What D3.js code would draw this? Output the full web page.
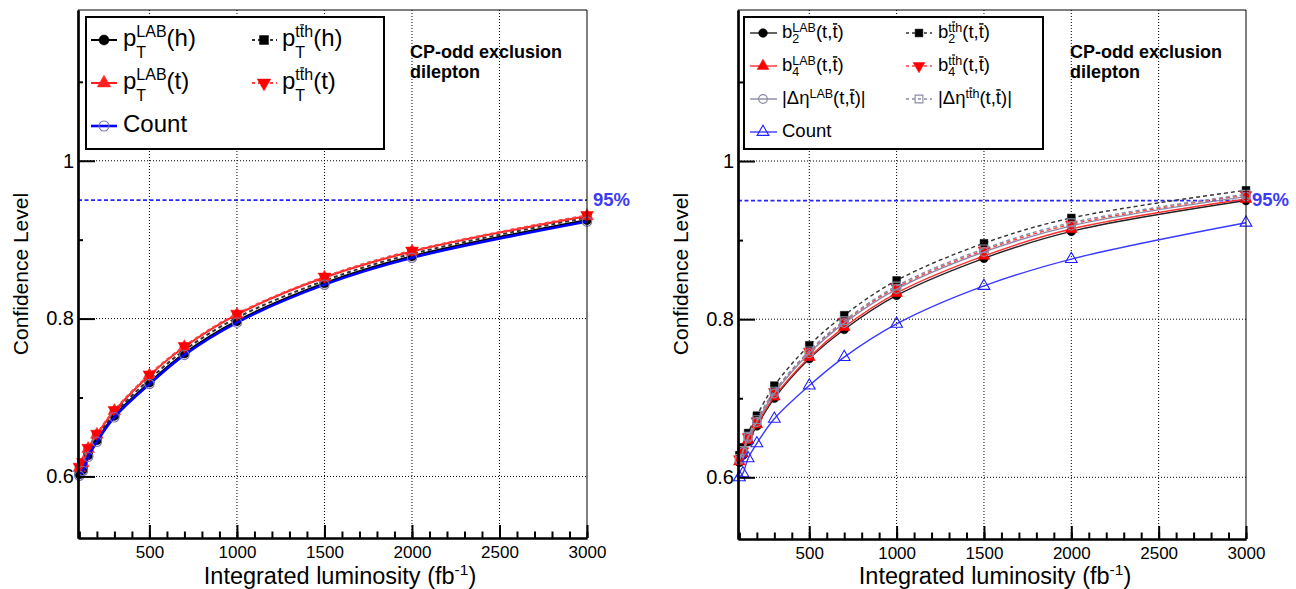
<!DOCTYPE html>
<html>
<head>
<meta charset="utf-8">
<script src="https://cdn.jsdelivr.net/npm/d3@7"></script>
<style>
body { margin: 0; background: #fff; }
text { font-family: "Liberation Sans", Arial, Helvetica, sans-serif; }
</style>
</head>
<body>
<script>
var width = 1296,
    height = 589;

// integrated luminosity points (fb-1)
var lumi = [100, 120, 150, 200, 300, 500, 700, 1000, 1500, 2000, 3000];

// left panel: pT based observables
var ptLabH  = [0.603, 0.609, 0.627, 0.646, 0.677, 0.719, 0.756, 0.797, 0.845, 0.879, 0.925];
var ptTthH  = [0.607, 0.613, 0.631, 0.650, 0.680, 0.723, 0.760, 0.801, 0.848, 0.882, 0.928];
var ptLabT  = [0.611, 0.617, 0.635, 0.653, 0.683, 0.728, 0.764, 0.805, 0.852, 0.885, 0.930];
var ptTthT  = [0.612, 0.618, 0.636, 0.654, 0.684, 0.729, 0.765, 0.806, 0.853, 0.886, 0.931];
var countL  = [0.601, 0.607, 0.625, 0.644, 0.675, 0.717, 0.754, 0.795, 0.843, 0.877, 0.923];

// right panel: angular observables
var b2Lab   = [0.619, 0.628, 0.645, 0.665, 0.700, 0.750, 0.787, 0.830, 0.877, 0.911, 0.950];
var b2Tth   = [0.628, 0.638, 0.656, 0.678, 0.716, 0.767, 0.805, 0.849, 0.896, 0.928, 0.963];
var b4Lab   = [0.620, 0.630, 0.647, 0.667, 0.702, 0.752, 0.790, 0.833, 0.880, 0.914, 0.952];
var b4Tth   = [0.623, 0.633, 0.651, 0.671, 0.708, 0.759, 0.797, 0.840, 0.887, 0.920, 0.957];
var detaLab = [0.622, 0.632, 0.650, 0.670, 0.706, 0.757, 0.795, 0.838, 0.885, 0.918, 0.955];
var detaTth = [0.624, 0.634, 0.652, 0.673, 0.709, 0.760, 0.798, 0.842, 0.889, 0.922, 0.958];
var countR  = [0.600, 0.605, 0.624, 0.643, 0.674, 0.716, 0.752, 0.794, 0.842, 0.876, 0.922];

var xTicks = [500, 1000, 1500, 2000, 2500, 3000];
var xMinor = d3.range(100, 3001, 100);
var yTicks = [0.6, 0.8, 1];
var yTickLabels = ['0.6', '0.8', '1'];
var yMinor = [0.7, 0.9, 1.1];
var clLevel = 0.95;

var tth = ['t', {t: 't', bar: 1}, 'h'];
var tbar = ['(t,', {t: 't', bar: 1}, ')'];

var leftSeries = [
  {vals: ptLabH, color: '#000', dash: null, marker: 'circle', fill: true,
   label: ['p', {sup: ['LAB'], sub: ['T']}, '(h)']},
  {vals: ptTthH, color: '#333', dash: '4,3', marker: 'square', fill: true, mcolor: '#000',
   label: ['p', {sup: tth, sub: ['T']}, '(h)']},
  {vals: ptLabT, color: '#ff2020', dash: null, marker: 'up', fill: true,
   label: ['p', {sup: ['LAB'], sub: ['T']}, '(t)']},
  {vals: ptTthT, color: '#ff4040', dash: '4,3', marker: 'down', fill: true, mcolor: '#ff0000',
   label: ['p', {sup: tth, sub: ['T']}, '(t)']},
  {vals: countL, color: '#0000ff', dash: null, marker: 'circle', fill: false, mcolor: '#7777aa', width: 2.6,
   label: ['Count']}
];

var rightSeries = [
  {vals: b2Lab, color: '#222', dash: null, marker: 'circle', fill: true, mcolor: '#000',
   label: ['b', {sup: ['LAB'], sub: ['2']}].concat(tbar)},
  {vals: b2Tth, color: '#333', dash: '4,3', marker: 'square', fill: true, mcolor: '#000',
   label: ['b', {sup: tth, sub: ['2']}].concat(tbar)},
  {vals: b4Lab, color: '#ff3030', dash: null, marker: 'up', fill: true, mcolor: '#ff0000',
   label: ['b', {sup: ['LAB'], sub: ['4']}].concat(tbar)},
  {vals: b4Tth, color: '#ff4040', dash: '4,3', marker: 'down', fill: true, mcolor: '#ff0000',
   label: ['b', {sup: tth, sub: ['4']}].concat(tbar)},
  {vals: detaLab, color: '#8a8aa6', dash: null, marker: 'circle', fill: false,
   label: ['|\u0394\u03b7', {sup: ['LAB']}].concat(tbar).concat(['|'])},
  {vals: detaTth, color: '#8a8aa6', dash: '4,3', marker: 'square', fill: false,
   label: ['|\u0394\u03b7', {sup: tth}].concat(tbar).concat(['|'])},
  {vals: countR, color: '#3a3aff', dash: null, marker: 'up', fill: false, mcolor: '#2020ff',
   label: ['Count']}
];

var svg = d3.select('body')
  .append('svg')
  .attr('width', width)
  .attr('height', height);

svg.append('rect').attr('width', width).attr('height', height).attr('fill', '#fff');

function symbolPath(type, size) {
  var t = type === 'circle' ? d3.symbolCircle
        : type === 'square' ? d3.symbolSquare : d3.symbolTriangle;
  return d3.symbol().type(t).size(size)();
}

function drawMarker(g, s, cx, cy, size) {
  var col = s.mcolor || s.color;
  g.append('path')
    .attr('d', symbolPath(s.marker, size))
    .attr('transform', 'translate(' + cx + ',' + cy + ')' + (s.marker === 'down' ? ' rotate(180)' : ''))
    .attr('fill', s.fill ? col : 'none')
    .attr('stroke', col)
    .attr('stroke-width', s.fill ? 0.5 : 1.1);
}

// lay out a run of text pieces, returns its width
function runs(g, list, x, y, fs) {
  var cx = x;
  list.forEach(function(p) {
    if (typeof p === 'string') p = {t: p};
    var t = g.append('text').attr('x', cx).attr('y', y).attr('font-size', fs).text(p.t);
    var w = t.node().getComputedTextLength();
    if (p.bar) {
      g.append('line')
        .attr('x1', cx + w * 0.1).attr('x2', cx + w * 0.95)
        .attr('y1', y - fs * 0.76).attr('y2', y - fs * 0.76)
        .attr('stroke', '#000').attr('stroke-width', fs > 16 ? 1.5 : 1.2);
    }
    cx += w;
  });
  return cx - x;
}

function richText(g, items, x, y, o) {
  var cx = x;
  items.forEach(function(it) {
    if (typeof it === 'object' && (it.sup || it.sub)) {
      var w1 = runs(g, it.sup || [], cx, y + o.supDy, o.ss);
      var w2 = runs(g, it.sub || [], cx, y + o.subDy, o.ss);
      cx += Math.max(w1, w2);
    } else {
      cx += runs(g, [it], cx, y, o.fs);
    }
  });
}

function panel(o, series) {
  var x = d3.scaleLinear().domain([92, 3000]).range([o.x0, o.x1]);
  var y = d3.scaleLinear().domain([0.522, 1.191]).range([o.y1, o.y0]);
  var g = svg.append('g');

  // dotted grid
  g.selectAll('.gx').data(xTicks.slice(0, -1)).enter().append('line')
    .attr('x1', function(d) { return x(d); }).attr('x2', function(d) { return x(d); })
    .attr('y1', o.y0).attr('y2', o.y1)
    .attr('stroke', '#000').attr('stroke-width', 1).attr('stroke-dasharray', '1,2');
  g.selectAll('.gy').data(yTicks).enter().append('line')
    .attr('x1', o.x0).attr('x2', o.x1)
    .attr('y1', function(d) { return y(d); }).attr('y2', function(d) { return y(d); })
    .attr('stroke', '#000').attr('stroke-width', 1).attr('stroke-dasharray', '1,2');

  // 95% line
  g.append('line')
    .attr('x1', o.x0).attr('x2', o.x1)
    .attr('y1', y(clLevel)).attr('y2', y(clLevel))
    .attr('stroke', '#2525ff').attr('stroke-width', 1.7).attr('stroke-dasharray', '4,2.5');

  // curves and markers
  var line = d3.line()
    .x(function(d, i) { return x(lumi[i]); })
    .y(function(d) { return y(d); })
    .curve(d3.curveCatmullRom.alpha(0.5));

  series.forEach(function(s) {
    g.append('path')
      .attr('d', line(s.vals))
      .attr('fill', 'none')
      .attr('stroke', s.color)
      .attr('stroke-width', s.width || o.lw)
      .attr('stroke-dasharray', s.dash);
    s.vals.forEach(function(v, i) {
      drawMarker(g, s, x(lumi[i]), y(v), o.msize);
    });
  });

  // frame: thin top and right
  g.append('line').attr('x1', o.x0).attr('x2', o.x1).attr('y1', o.y0).attr('y2', o.y0)
    .attr('stroke', '#000').attr('stroke-width', 1);
  g.append('line').attr('x1', o.x1).attr('x2', o.x1).attr('y1', o.y0).attr('y2', o.y1)
    .attr('stroke', '#000').attr('stroke-width', 1);

  // axes
  var xAxis = g.append('g').attr('transform', 'translate(0,' + o.y1 + ')')
    .call(d3.axisBottom(x).tickValues(xTicks).tickSize(-13).tickSizeOuter(0).tickPadding(8)
      .tickFormat(d3.format('d')));
  g.append('g').attr('transform', 'translate(0,' + o.y1 + ')')
    .call(d3.axisBottom(x).tickValues(xMinor).tickSize(-6.5).tickSizeOuter(0).tickFormat(''));
  var yAxis = g.append('g').attr('transform', 'translate(' + o.x0 + ',0)')
    .call(d3.axisLeft(y).tickValues(yTicks).tickSize(-17).tickSizeOuter(0).tickPadding(4)
      .tickFormat(function(d, i) { return yTickLabels[i]; }));
  g.append('g').attr('transform', 'translate(' + o.x0 + ',0)')
    .call(d3.axisLeft(y).tickValues(yMinor).tickSize(-5).tickSizeOuter(0).tickFormat(''));

  g.selectAll('.domain').attr('stroke-width', 2.2);
  g.selectAll('.tick line').attr('stroke-width', 2);
  xAxis.selectAll('text').attr('font-size', 17).attr('font-family', null);
  yAxis.selectAll('text').attr('font-size', 20).attr('font-family', null);
  g.selectAll('.tick text').attr('fill', '#000');

  // axis titles
  var xt = g.append('text').attr('x', o.xTitle).attr('y', 584)
    .attr('text-anchor', 'middle').attr('font-size', 23.5)
    .text('Integrated luminosity (fb');
  xt.append('tspan').attr('dy', -9).attr('font-size', 15.5).text('-1');
  xt.append('tspan').attr('dy', 9).text(')');
  g.append('text')
    .attr('transform', 'translate(' + (o.x0 - 50) + ',274) rotate(-90)')
    .attr('text-anchor', 'middle').attr('font-size', 21)
    .text('Confidence Level');

  // 95% label
  g.append('text').attr('x', o.x1 + 6).attr('y', 206)
    .attr('font-size', 18.5).attr('font-weight', 'bold').attr('fill', '#3c3cf5')
    .text('95%');

  // channel label
  g.append('text').attr('x', o.x0 + 332).attr('y', 58)
    .attr('font-size', 18).attr('font-weight', 'bold').text('CP-odd exclusion');
  g.append('text').attr('x', o.x0 + 332).attr('y', 78)
    .attr('font-size', 18).attr('font-weight', 'bold').text('dilepton');

  // legend
  var L = o.legend;
  var lg = g.append('g');
  lg.append('rect')
    .attr('x', L.x0).attr('y', L.y0).attr('width', L.x1 - L.x0).attr('height', L.y1 - L.y0)
    .attr('fill', '#fff').attr('stroke', '#000').attr('stroke-width', 2);
  series.forEach(function(s, i) {
    var c = L.cols[i % 2], ry = L.rows[Math.floor(i / 2)];
    lg.append('line')
      .attr('x1', c.l0).attr('x2', c.l1).attr('y1', ry).attr('y2', ry)
      .attr('stroke', s.color).attr('stroke-width', s.width || o.lw)
      .attr('stroke-dasharray', s.dash ? '3,3' : null);
    drawMarker(lg, s, c.m, ry, L.msize);
    richText(lg, s.label, c.t, ry + L.base, L);
  });
}

panel({
  x0: 78, x1: 587, y0: 10, y1: 538, lw: 2, msize: 70, xTitle: 340,
  legend: {x0: 86, y0: 17, x1: 384, y1: 149, rows: [40, 83, 126],
    cols: [{l0: 91, l1: 117, m: 104, t: 123}, {l0: 252, l1: 277, m: 264, t: 282}],
    fs: 24, ss: 16, supDy: -9, subDy: 12, base: 6, msize: 80}
}, leftSeries);

panel({
  x0: 738, x1: 1246, y0: 10, y1: 539, lw: 1.4, msize: 60, xTitle: 995,
  legend: {x0: 744, y0: 17, x1: 1043, y1: 149, rows: [33, 66, 99, 132],
    cols: [{l0: 750, l1: 777, m: 763, t: 782}, {l0: 906, l1: 932, m: 919, t: 938}],
    fs: 18.5, ss: 12.5, supDy: -6.5, subDy: 5, base: 5, msize: 60}
}, rightSeries);
</script>
</body>
</html>
